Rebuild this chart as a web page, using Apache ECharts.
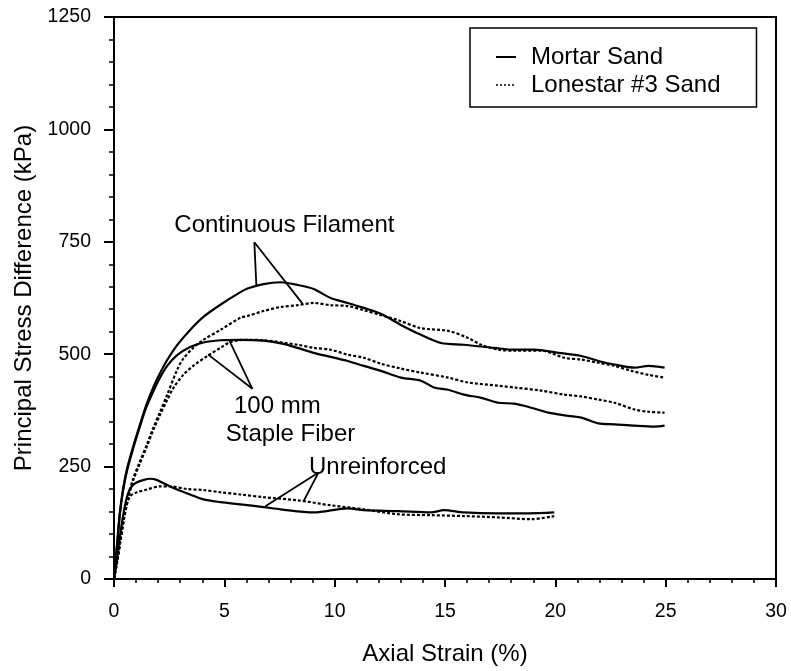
<!DOCTYPE html>
<html>
<head>
<meta charset="utf-8">
<script src="https://cdn.jsdelivr.net/npm/echarts@6/dist/echarts.min.js"></script>
<style>
html,body{margin:0;padding:0;background:#fff;}
#chart{width:791px;height:671px;}
</style>
</head>
<body>
<div id="chart"></div>
<script>
// ---- Data (Axial Strain %, Principal Stress Difference kPa) ----
const xTicks = [0, 5, 10, 15, 20, 25, 30];
const yTicks = [0, 250, 500, 750, 1000, 1250];

const cfMortar = [[0,0],[0.14,78],[0.27,150],[0.41,200],[0.59,245],[0.86,293],[1.18,344],[1.45,385],[1.77,425],[2.09,458],[2.41,487],[2.86,520],[3.45,554],[4.05,583],[4.82,610],[5.73,638],[6.05,646],[6.77,656],[7.55,660],[8.32,654],[9.05,645],[9.82,625],[10.59,614],[11.32,603],[12.09,590],[13.0,565],[13.91,543],[14.82,525],[15.86,521],[17.23,514],[18.14,510],[19.05,510],[20.14,503],[21.18,496],[21.95,485],[22.68,477],[23.59,470],[24.23,474],[24.95,470]];

const cfLonestar = [[0,0],[0.14,40],[0.27,80],[0.45,135],[0.64,182],[0.86,222],[1.18,262],[1.5,300],[1.77,335],[2.09,372],[2.41,410],[2.86,465],[3.14,490],[3.59,514],[4.05,532],[4.82,554],[5.73,581],[6.05,585],[6.77,596],[7.55,605],[8.32,609],[9.05,614],[9.82,609],[10.59,607],[11.32,598],[12.09,587],[12.86,576],[13.91,558],[15.14,552],[16.05,536],[16.64,521],[17.41,510],[18.14,508],[19.36,508],[20.41,492],[21.18,488],[21.95,481],[22.68,474],[23.45,463],[24.23,454],[24.95,448]];

const sfMortar = [[0,0],[0.14,75],[0.27,146],[0.41,196],[0.59,241],[0.86,289],[1.18,340],[1.45,380],[1.77,416],[2.09,448],[2.41,474],[2.86,498],[3.45,516],[4.05,526],[4.82,531],[5.73,532],[6.77,530],[7.68,523],[8.32,514],[9.05,503],[9.82,494],[10.59,485],[11.32,474],[12.09,463],[13.0,448],[13.91,441],[14.5,426],[15.14,421],[15.86,410],[16.64,403],[17.41,392],[18.14,390],[18.91,381],[19.68,370],[20.59,363],[21.18,359],[21.95,346],[22.68,344],[23.59,341],[24.5,339],[24.95,341]];

const sfLonestar = [[0,0],[0.14,38],[0.27,78],[0.45,132],[0.64,178],[0.86,218],[1.18,258],[1.5,296],[1.77,330],[2.09,366],[2.41,398],[2.68,424],[3.14,454],[3.59,474],[4.23,496],[4.82,514],[5.27,527],[5.9,532],[6.77,531],[8.32,521],[9.05,514],[9.82,510],[10.59,499],[11.32,492],[12.09,479],[13.0,468],[13.91,459],[15.14,448],[16.05,437],[17.41,430],[18.14,426],[19.36,419],[20.41,410],[21.18,406],[21.95,399],[22.68,392],[23.59,377],[24.23,372],[24.95,370]];

const urMortar = [[0,0],[0.14,45],[0.27,95],[0.41,140],[0.55,175],[0.68,196],[0.82,207],[1.0,214],[1.32,220],[1.64,223],[1.9,221],[2.2,214],[2.5,207],[2.86,199],[3.45,188],[4.05,177],[4.82,171],[5.73,166],[6.77,160],[7.55,155],[9.05,148],[10.59,157],[11.32,153],[12.86,151],[14.36,148],[14.95,153],[15.86,148],[17.41,146],[18.77,146],[19.95,148]];

const urLonestar = [[0,0],[0.18,49],[0.36,110],[0.55,160],[0.73,184],[1.05,193],[1.5,199],[2.09,206],[2.55,206],[3.32,200],[4.05,198],[4.82,193],[5.73,188],[6.77,182],[8.32,175],[9.82,164],[11.32,155],[12.86,144],[14.36,142],[15.86,140],[17.41,137],[18.91,133],[19.95,140]];

// Annotation leader lines (data coordinates)
const leaderLines = [
  [[6.36,749],[6.45,654]],
  [[6.36,749],[8.55,612]],
  [[6.27,423],[5.23,530]],
  [[6.27,423],[4.27,499]],
  [[9.27,237],[6.86,162]],
  [[9.27,237],[8.59,173]]
];
const annoTexts = [
  {text:'Continuous Filament', at:[7.72,787]},
  {text:'100 mm', at:[7.4,384]},
  {text:'Staple Fiber', at:[8.0,322]},
  {text:'Unreinforced', at:[11.95,249]}
];

const FONT = 'Liberation Sans, Arial, Helvetica, sans-serif';
const solid = {color:'#000', width:2.2, type:'solid'};
const dotted = {color:'#000', width:2.2, type:[3,2]};

function mk(name, data, ls){
  return {name, type:'line', data, showSymbol:false, symbol:'none', smooth:0.3,
    lineStyle:ls, itemStyle:{color:'#000'}, z:3, animation:false};
}

const series = [
  mk('Mortar Sand', cfMortar, solid),
  mk('Lonestar #3 Sand', cfLonestar, dotted),
  mk('Mortar Sand', sfMortar, solid),
  mk('Lonestar #3 Sand', sfLonestar, dotted),
  mk('Mortar Sand', urMortar, solid),
  mk('Lonestar #3 Sand', urLonestar, dotted)
];
series.push({
  name:'annotations', type:'line', data:[], animation:false,
  markLine:{silent:true, symbol:'none', animation:false,
    lineStyle:{color:'#000', width:1.8, type:'solid'}, label:{show:false},
    data: leaderLines.map(s=>[{coord:s[0]},{coord:s[1]}])},
  markPoint:{silent:true, symbol:'rect', symbolSize:0, animation:false,
    label:{show:true, position:'inside', color:'#000', fontSize:24, fontFamily:FONT},
    data: annoTexts.map(a=>({coord:a.at, value:a.text, label:{formatter:a.text}}))}
});

const chart = echarts.init(document.getElementById('chart'), null, {renderer:'canvas'});
chart.setOption({
  backgroundColor:'#fff',
  animation:false,
  grid:{left:114, right:15, top:17, bottom:89, show:true, borderColor:'#000', borderWidth:2, backgroundColor:'transparent'},
  legend:{
    data:[
      {name:'Mortar Sand', itemStyle:{opacity:0}, lineStyle:{width:2, type:'solid', color:'#000'}},
      {name:'Lonestar #3 Sand', itemStyle:{opacity:0}, lineStyle:{width:1.5, type:[2,2], color:'#000'}}
    ],
    left:470, top:28, orient:'vertical',
    itemWidth:20, itemHeight:10, itemGap:4,
    padding:[17,36,10,25],
    borderColor:'#000', borderWidth:1.5, backgroundColor:'#fff',
    textStyle:{fontSize:24, color:'#000', fontFamily:FONT, padding:[0,0,0,10]},
    selectedMode:false
  },
  xAxis:{
    type:'value', min:0, max:30, interval:5,
    name:'Axial Strain (%)', nameLocation:'middle', nameGap:63,
    nameTextStyle:{fontSize:24, color:'#000', fontFamily:FONT},
    axisLine:{show:true, lineStyle:{color:'#000', width:2}},
    axisTick:{show:true, inside:false, length:8, lineStyle:{color:'#000', width:2}},
    minorTick:{show:true, splitNumber:5, length:4, lineStyle:{color:'#000', width:1.5}},
    axisLabel:{margin:23, fontSize:19.5, color:'#000', fontFamily:FONT,
      formatter:v=>xTicks.includes(v)?String(v):''},
    splitLine:{show:false}
  },
  yAxis:{
    type:'value', min:0, max:1250, interval:250,
    name:'Principal Stress Difference (kPa)', nameLocation:'middle', nameGap:78,
    nameTextStyle:{fontSize:24, color:'#000', fontFamily:FONT},
    axisLine:{show:true, lineStyle:{color:'#000', width:2}},
    axisTick:{show:true, inside:false, length:10, lineStyle:{color:'#000', width:2}},
    minorTick:{show:true, splitNumber:5, length:5, lineStyle:{color:'#000', width:1.5}},
    axisLabel:{margin:23, fontSize:19.5, color:'#000', fontFamily:FONT, padding:[0,0,0,0], lineHeight:26, verticalAlign:'middle',
      formatter:v=>yTicks.includes(v)?'\n'.repeat(0)+String(v):''},
    splitLine:{show:false}
  },
  series
});
</script>
</body>
</html>
